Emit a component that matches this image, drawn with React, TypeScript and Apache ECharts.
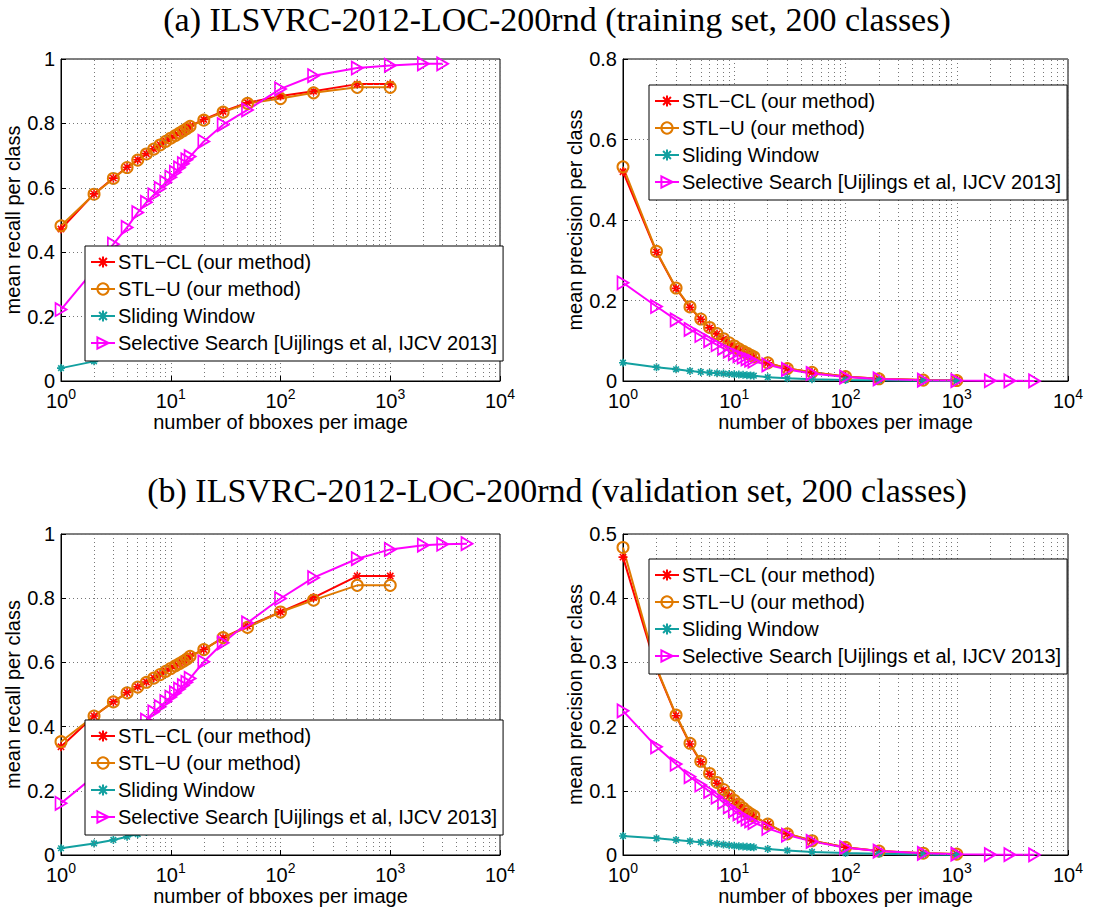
import React, { useEffect, useRef } from 'react';
import * as echarts from 'echarts';

// ---------- data ----------
const X_STL = [1, 2, 3, 4, 5, 6, 7, 8, 9, 10, 11, 12, 13, 14, 15, 20, 30, 50, 100, 200, 500, 1000];
const X_SW = [1, 2, 3, 4, 5, 6, 7, 8, 9, 10, 11, 12, 13, 14, 15, 20, 30, 50, 100, 200, 500, 1000];
const X_SS_SHORT = [1, 2, 3, 4, 5, 6, 7, 8, 9, 10, 11, 12, 13, 14, 15, 20, 30, 50, 100, 200, 500, 1000, 2000, 3000];
const X_SS_LONG = [1, 2, 3, 4, 5, 6, 7, 8, 9, 10, 11, 12, 13, 14, 15, 20, 30, 50, 100, 200, 500, 1000, 2000, 3000, 5000];

// (a) training set — recall
const TRAIN_RECALL_CL = [0.472, 0.581, 0.630, 0.664, 0.687, 0.706, 0.721, 0.734, 0.745, 0.755, 0.763, 0.771, 0.778, 0.785, 0.792, 0.812, 0.837, 0.864, 0.885, 0.900, 0.922, 0.922];
const TRAIN_RECALL_U = [0.482, 0.580, 0.629, 0.663, 0.686, 0.705, 0.720, 0.733, 0.744, 0.754, 0.762, 0.770, 0.777, 0.784, 0.791, 0.810, 0.835, 0.862, 0.877, 0.895, 0.912, 0.912];
const TRAIN_RECALL_SW = [0.040, 0.061, 0.075, 0.086, 0.096, 0.104, 0.111, 0.118, 0.124, 0.130, 0.135, 0.140, 0.145, 0.150, 0.154, 0.172, 0.198, 0.232, 0.278, 0.318, 0.362, 0.390];
const TRAIN_RECALL_SS = [0.222, 0.345, 0.425, 0.477, 0.523, 0.555, 0.578, 0.598, 0.617, 0.633, 0.648, 0.662, 0.675, 0.687, 0.697, 0.744, 0.796, 0.842, 0.907, 0.948, 0.972, 0.980, 0.985, 0.985];

// (a) training set — precision
const TRAIN_PREC_CL = [0.520, 0.320, 0.230, 0.183, 0.153, 0.132, 0.117, 0.104, 0.094, 0.086, 0.079, 0.073, 0.068, 0.063, 0.059, 0.045, 0.031, 0.0215, 0.0109, 0.0056, 0.0023, 0.0012];
const TRAIN_PREC_U = [0.532, 0.322, 0.231, 0.184, 0.154, 0.133, 0.118, 0.105, 0.095, 0.087, 0.080, 0.074, 0.069, 0.064, 0.060, 0.045, 0.031, 0.0215, 0.0108, 0.0055, 0.0022, 0.0011];
const TRAIN_PREC_SW = [0.0455, 0.034, 0.029, 0.025, 0.0225, 0.0207, 0.0195, 0.0184, 0.0174, 0.0166, 0.016, 0.0153, 0.0145, 0.0138, 0.0132, 0.0095, 0.0068, 0.0045, 0.0027, 0.0016, 0.0008, 0.0004];
const TRAIN_PREC_SS = [0.244, 0.185, 0.152, 0.128, 0.113, 0.100, 0.090, 0.081, 0.074, 0.068, 0.063, 0.059, 0.055, 0.052, 0.049, 0.040, 0.0287, 0.0187, 0.0098, 0.0051, 0.0021, 0.00106, 0.00053, 0.00036, 0.0002];

// (b) validation set — recall
const VAL_RECALL_CL = [0.337, 0.433, 0.477, 0.506, 0.524, 0.539, 0.552, 0.563, 0.573, 0.582, 0.590, 0.597, 0.604, 0.611, 0.620, 0.640, 0.677, 0.713, 0.757, 0.802, 0.869, 0.869];
const VAL_RECALL_U = [0.353, 0.433, 0.477, 0.505, 0.523, 0.538, 0.551, 0.562, 0.572, 0.581, 0.589, 0.596, 0.603, 0.610, 0.619, 0.640, 0.677, 0.709, 0.757, 0.794, 0.840, 0.840];
const VAL_RECALL_SW = [0.021, 0.036, 0.047, 0.057, 0.065, 0.072, 0.078, 0.084, 0.089, 0.094, 0.098, 0.102, 0.106, 0.110, 0.114, 0.128, 0.150, 0.178, 0.218, 0.258, 0.300, 0.330];
const VAL_RECALL_SS = [0.161, 0.245, 0.305, 0.355, 0.390, 0.420, 0.446, 0.462, 0.478, 0.492, 0.505, 0.517, 0.528, 0.538, 0.550, 0.602, 0.661, 0.723, 0.799, 0.864, 0.923, 0.952, 0.965, 0.968, 0.970];

// (b) validation set — precision
const VAL_PREC_CL = [0.464, 0.29, 0.217, 0.173, 0.145, 0.126, 0.112, 0.101, 0.092, 0.084, 0.078, 0.072, 0.067, 0.063, 0.060, 0.048, 0.033, 0.0222, 0.012, 0.0064, 0.0029, 0.0015];
const VAL_PREC_U = [0.479, 0.292, 0.218, 0.174, 0.146, 0.127, 0.113, 0.102, 0.093, 0.085, 0.079, 0.073, 0.068, 0.064, 0.061, 0.048, 0.033, 0.0222, 0.0118, 0.0062, 0.0028, 0.0014];
const VAL_PREC_SW = [0.0296, 0.026, 0.0235, 0.0215, 0.020, 0.019, 0.0175, 0.0163, 0.0152, 0.0143, 0.0137, 0.0132, 0.0127, 0.0123, 0.012, 0.0095, 0.007, 0.0048, 0.003, 0.0018, 0.0008, 0.0004];
const VAL_PREC_SS = [0.2245, 0.1685, 0.1416, 0.122, 0.109, 0.099, 0.090, 0.082, 0.075, 0.069, 0.064, 0.060, 0.056, 0.053, 0.0505, 0.0415, 0.031, 0.0212, 0.0113, 0.0061, 0.0026, 0.00135, 0.0007, 0.00046, 0.00028];

const NAMES = [
  'STL\u2212CL (our method)',
  'STL\u2212U (our method)',
  'Sliding Window',
  'Selective Search [Uijlings et al, IJCV 2013]',
];
const TITLES = [
  '(a) ILSVRC-2012-LOC-200rnd (training set, 200 classes)',
  '(b) ILSVRC-2012-LOC-200rnd (validation set, 200 classes)',
];
const X_NAME = 'number of bboxes per image';
const Y_NAMES = ['mean recall per class', 'mean precision per class', 'mean recall per class', 'mean precision per class'];
const Y_MAX = [1, 0.8, 1, 0.5];
const Y_INTERVAL = [0.2, 0.2, 0.2, 0.1];

// ---------- style ----------
const SANS = 'Liberation Sans';
const SERIF = 'Liberation Serif';
const C_RED = '#ff0000';
const C_ORANGE = '#e07a00';
const C_TEAL = '#12a0a0';
const C_MAGENTA = '#ff00ff';
const ASTERISK = 'path://M5,0L5,10M0,5L10,5M1.5,1.5L8.5,8.5M1.5,8.5L8.5,1.5';
const TRI_RIGHT = 'path://M0,0L10,6L0,12Z';

const GRIDS = [
  { left: 61, top: 59, width: 439, height: 322 },
  { left: 623, top: 59, width: 445, height: 322 },
  { left: 61, top: 534, width: 439, height: 321 },
  { left: 623, top: 534, width: 445, height: 321 },
];
const LEGEND_POS = [
  { left: 85, top: 246 },
  { left: 649, top: 85 },
  { left: 85, top: 720 },
  { left: 649, top: 559 },
];

const MINOR_X: number[] = [];
[1, 10, 100, 1000].forEach((d) => {
  for (let k = 2; k <= 9; k++) MINOR_X.push(k * d);
});

function pairs(xs: number[], ys: number[]) {
  return ys.map((y, i) => [xs[i], y]);
}

function lineSeries(gi: number, idx: number, xs: number[], ys: number[]) {
  const base: any = {
    type: 'line',
    name: NAMES[idx],
    xAxisIndex: gi,
    yAxisIndex: gi,
    data: pairs(xs, ys),
    showSymbol: true,
    showAllSymbol: true,
    z: 3,
    silent: true,
  };
  if (idx === 0) {
    return { ...base, symbol: ASTERISK, symbolSize: 9, lineStyle: { color: C_RED, width: 2 }, itemStyle: { color: C_RED, borderColor: C_RED, borderWidth: 1.6 } };
  }
  if (idx === 1) {
    return { ...base, symbol: 'circle', symbolSize: 11, lineStyle: { color: C_ORANGE, width: 2 }, itemStyle: { color: 'rgba(255,255,255,0)', borderColor: C_ORANGE, borderWidth: 2 } };
  }
  if (idx === 2) {
    return { ...base, symbol: ASTERISK, symbolSize: 8, lineStyle: { color: C_TEAL, width: 2 }, itemStyle: { color: C_TEAL, borderColor: C_TEAL, borderWidth: 1.6 } };
  }
  return { ...base, symbol: TRI_RIGHT, symbolSize: [11, 13], lineStyle: { color: C_MAGENTA, width: 2 }, itemStyle: { color: 'rgba(255,255,255,0)', borderColor: C_MAGENTA, borderWidth: 1.8 } };
}

const PANELS = [
  { cl: TRAIN_RECALL_CL, u: TRAIN_RECALL_U, sw: TRAIN_RECALL_SW, ss: TRAIN_RECALL_SS, ssx: X_SS_SHORT },
  { cl: TRAIN_PREC_CL, u: TRAIN_PREC_U, sw: TRAIN_PREC_SW, ss: TRAIN_PREC_SS, ssx: X_SS_LONG },
  { cl: VAL_RECALL_CL, u: VAL_RECALL_U, sw: VAL_RECALL_SW, ss: VAL_RECALL_SS, ssx: X_SS_LONG },
  { cl: VAL_PREC_CL, u: VAL_PREC_U, sw: VAL_PREC_SW, ss: VAL_PREC_SS, ssx: X_SS_LONG },
];

const DOTTED = { type: [1, 3], color: '#777', width: 1 };

function buildOption() {
  const series: any[] = [];
  PANELS.forEach((p, gi) => {
    series.push({
      type: 'line',
      xAxisIndex: gi,
      yAxisIndex: gi,
      data: [],
      silent: true,
      z: 1,
      markLine: {
        silent: true,
        symbol: ['none', 'none'],
        label: { show: false },
        lineStyle: DOTTED,
        emphasis: { disabled: true },
        data: MINOR_X.map((v) => ({ xAxis: v })),
      },
    });
    series.push(lineSeries(gi, 0, X_STL, p.cl));
    series.push(lineSeries(gi, 1, X_STL, p.u));
    series.push(lineSeries(gi, 2, X_SW, p.sw));
    series.push(lineSeries(gi, 3, p.ssx, p.ss));
  });

  const titleStyle = { fontFamily: SERIF, fontSize: 34, fontWeight: 'normal', color: '#000' };

  return {
    animation: false,
    backgroundColor: '#ffffff',
    title: [
      { text: TITLES[0], left: 'center', top: 0, padding: [2, 5, 2, 0], textStyle: titleStyle },
      { text: TITLES[1], left: 'center', top: 471, padding: [2, 5, 2, 0], textStyle: titleStyle },
    ],
    grid: GRIDS.map((g) => ({ ...g, show: true, borderColor: '#000', borderWidth: 1, backgroundColor: 'transparent', containLabel: false })),
    xAxis: GRIDS.map((_, gi) => ({
      type: 'log',
      logBase: 10,
      gridIndex: gi,
      min: 1,
      max: 10000,
      name: X_NAME,
      nameLocation: 'middle',
      nameGap: 29,
      nameTextStyle: { fontFamily: SANS, fontSize: 20, color: '#000' },
      axisLine: { show: true, lineStyle: { color: '#000', width: 1 } },
      axisTick: { show: true, inside: true, length: 5, lineStyle: { color: '#000' } },
      splitLine: { show: true, lineStyle: DOTTED },
      axisLabel: {
        margin: 6,
        formatter: (v: number) => '{b|10}{s|' + Math.round(Math.log10(v)) + '}',
        rich: {
          b: { fontFamily: SANS, fontSize: 20, color: '#000' },
          s: { fontFamily: SANS, fontSize: 14, color: '#000', padding: [0, 0, 14, 0] },
        },
      },
    })),
    yAxis: GRIDS.map((_, gi) => ({
      type: 'value',
      gridIndex: gi,
      min: 0,
      max: Y_MAX[gi],
      interval: Y_INTERVAL[gi],
      name: Y_NAMES[gi],
      nameLocation: 'middle',
      nameGap: 34,
      nameRotate: 90,
      nameTextStyle: { fontFamily: SANS, fontSize: 20, color: '#000' },
      axisLine: { show: true, lineStyle: { color: '#000', width: 1 } },
      axisTick: { show: true, inside: true, length: 5, lineStyle: { color: '#000' } },
      splitLine: { show: true, lineStyle: DOTTED },
      axisLabel: { margin: 6, fontFamily: SANS, fontSize: 20, color: '#000' },
    })),
    legend: LEGEND_POS.map((pos) => ({
      ...pos,
      orient: 'vertical',
      data: NAMES,
      backgroundColor: '#ffffff',
      borderColor: '#000',
      borderWidth: 1,
      borderRadius: 0,
      padding: [6, 6, 8, 5],
      itemGap: 7,
      itemWidth: 24,
      itemHeight: 14,
      selectedMode: false,
      z: 10,
      textStyle: { fontFamily: SANS, fontSize: 20, color: '#000', padding: [0, 0, 0, -2] },
    })),
    series,
  };
}

export default function App() {
  const ref = useRef<HTMLDivElement>(null);
  useEffect(() => {
    document.body.style.margin = '0';
    if (!ref.current) return;
    const chart = echarts.init(ref.current, undefined, { renderer: 'svg' });
    chart.setOption(buildOption() as any);
    return () => chart.dispose();
  }, []);
  return <div ref={ref} style={{ width: 1114, height: 907 }} />;
}
